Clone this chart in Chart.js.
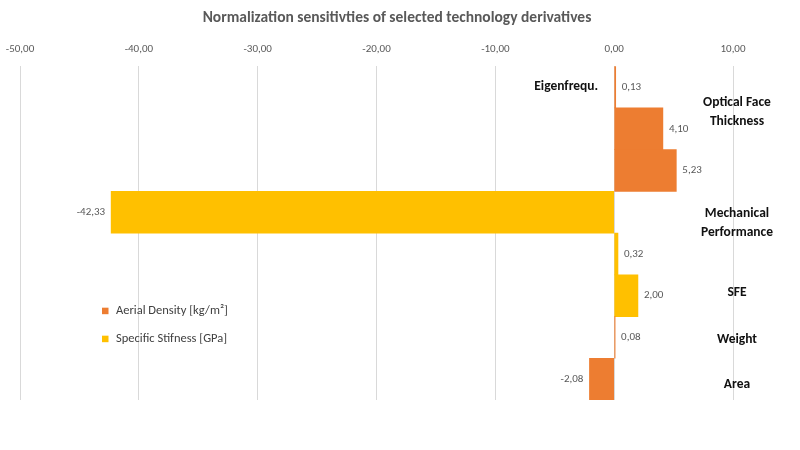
<!DOCTYPE html>
<html><head><meta charset="utf-8">
<script src="https://cdn.jsdelivr.net/npm/chart.js@4/dist/chart.umd.min.js"></script>
<style>html,body{margin:0;padding:0;background:#fff}#wrap{width:800px;height:450px;position:relative}</style>
</head><body><div id="wrap"><canvas id="c" width="800" height="450"></canvas></div>
<script>
const categories = ['Eigenfrequ.', 'Optical Face Thickness', '', 'Mechanical Performance', '', 'SFE', 'Weight', 'Area'];
const aerialDensity = [0.13, 4.10, 5.23, null, null, null, 0.08, -2.08];
const specificStiffness = [null, null, null, -42.33, 0.32, 2.00, null, null];
const xTicks = [-50, -40, -30, -20, -10, 0, 10];
const seriesNames = ['Aerial Density [kg/m²]', 'Specific Stifness [GPa]'];
const chartTitle = 'Normalization sensitivties of selected technology derivatives';

const FONT = "'Carlito','Liberation Sans Narrow','Open Sans',sans-serif";
const fmt = v => v.toFixed(2).replace('.', ',');

const labelPlugin = {
  id: 'extraLabels',
  afterDatasetsDraw(chart) {
    const ctx = chart.ctx, xs = chart.scales.x, ys = chart.scales.y;
    ctx.save();
    // title
    ctx.font = "bold 15.5px " + FONT;
    ctx.fillStyle = '#595959';
    ctx.textAlign = 'center';
    ctx.textBaseline = 'middle';
    ctx.fillText(chartTitle, chart.width / 2 - 3, 18);
    // value labels
    ctx.font = "11px " + FONT;
    chart.data.datasets.forEach((ds, di) => {
      const meta = chart.getDatasetMeta(di);
      meta.data.forEach((el, i) => {
        const v = ds.data[i];
        if (v === null || v === undefined) return;
        if (v >= 0) { ctx.textAlign = 'left'; ctx.fillText(fmt(v), el.x + 6, el.y); }
        else { ctx.textAlign = 'right'; ctx.fillText(fmt(v), el.x - 6, el.y); }
      });
    });
    // category labels
    const shifts = [0, -0.39, 0, 0.25, 0, -0.07, 0.05, 0.12];
    const slot = ys.getPixelForValue(1) - ys.getPixelForValue(0);
    ctx.font = "bold 13.5px " + FONT;
    ctx.fillStyle = '#111111';
    const cx = xs.getPixelForValue(10) + 4;
    categories.forEach((name, i) => {
      if (!name) return;
      const y = ys.getPixelForValue(i) + shifts[i] * slot;
      if (i === 0) {
        ctx.textAlign = 'right';
        ctx.fillText(name, xs.getPixelForValue(0) - 16, y);
        return;
      }
      ctx.textAlign = 'center';
      const words = name.split(' ');
      let lines = [name];
      if (words.length === 2) lines = words;
      if (words.length === 3) lines = [words[0] + ' ' + words[1], words[2]];
      const lh = 19;
      lines.forEach((ln, k) => ctx.fillText(ln, cx, y + (k - (lines.length - 1) / 2) * lh));
    });
    // legend
    ctx.font = "12.5px " + FONT;
    ctx.textAlign = 'left';
    const lx = 102, ly0 = ys.getPixelForValue(5) + 15, lstep = 28;
    chart.data.datasets.forEach((ds, di) => {
      const y = ly0 + di * lstep;
      ctx.fillStyle = ds.backgroundColor;
      ctx.fillRect(lx, y - 3, 6.5, 6.5);
      ctx.fillStyle = '#404040';
      ctx.fillText(ds.label, lx + 14, y);
    });
    ctx.restore();
  }
};

new Chart(document.getElementById('c'), {
  type: 'bar',
  data: {
    labels: categories,
    datasets: [
      { label: seriesNames[0], data: aerialDensity, backgroundColor: '#ED7D31', grouped: false, barPercentage: 1, categoryPercentage: 1 },
      { label: seriesNames[1], data: specificStiffness, backgroundColor: '#FFC000', grouped: false, barPercentage: 1, categoryPercentage: 1 }
    ]
  },
  options: {
    indexAxis: 'y',
    responsive: false,
    animation: false,
    layout: { padding: { left: 4, right: 67, bottom: 50, top: 33 } },
    plugins: {
      legend: { display: false },
      tooltip: { enabled: false },
      title: { display: false }
    },
    scales: {
      x: {
        position: 'top',
        min: -50, max: 10,
        afterBuildTicks: s => { s.ticks = xTicks.map(v => ({ value: v })); },
        afterFit: s => { s.paddingLeft = 20; },
        ticks: { color: '#595959', font: { family: FONT, size: 11 }, padding: 10, callback: v => fmt(v) },
        grid: { color: '#D9D9D9', drawTicks: false },
        border: { display: false }
      },
      y: {
        display: false
      }
    }
  },
  plugins: [labelPlugin]
});
</script></body></html>
